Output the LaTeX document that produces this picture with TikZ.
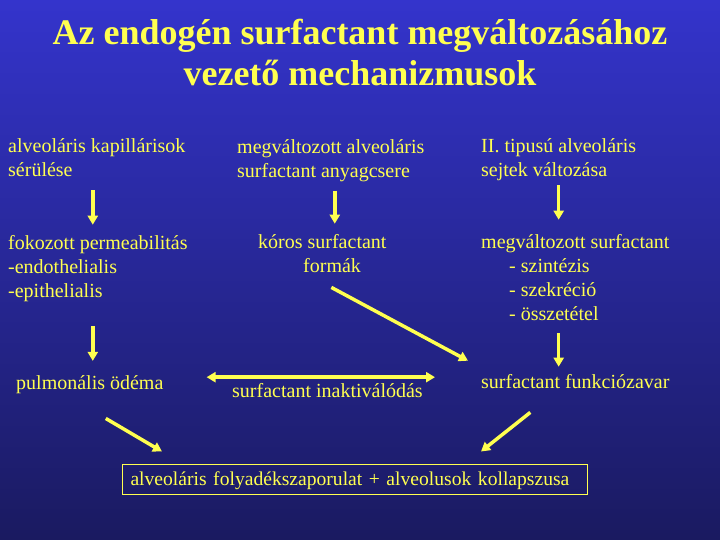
\documentclass[tikz,border=0pt]{standalone}
\usepackage{fontspec}
\setmainfont{Liberation Serif}
\usetikzlibrary{arrows.meta,positioning}
\definecolor{slidetop}{RGB}{52,52,204}
\definecolor{slidebot}{RGB}{26,26,96}
\definecolor{sarga}{RGB}{255,255,80}
\tikzset{
  txt/.style={text=sarga,font=\fontsize{20}{24}\selectfont,inner sep=0pt,align=left,anchor=base west},
  nyil/.style={draw=sarga,line width=3.5pt,-{Triangle[width=10pt,length=9pt]}},
  ketnyil/.style={nyil,{Triangle[width=10pt,length=9pt]}-{Triangle[width=10pt,length=9pt]}},
  doboz/.style={txt,font=\fontsize{19.6}{24}\selectfont,draw=sarga,line width=1pt,inner xsep=8pt,inner ysep=4pt,text width=449pt,text height=17pt,text depth=5pt}
}
\begin{document}
\begin{tikzpicture}[x=1pt,y=-1pt]
\shade[top color=slidetop,bottom color=slidebot] (0,0) rectangle (720,540);
\useasboundingbox (0,0) rectangle (720,540);
% cim (base = utolso sor)
\node[txt,font=\bfseries\fontsize{36}{41}\selectfont,align=center,anchor=base] (cim) at (360,86)
  {Az endogén surfactant megváltozásához\\vezető mechanizmusok};
% bal oszlop
\node[txt] (kap) at (8,177) {alveoláris kapillárisok\\sérülése};
\node[txt] (perm) at (8,297) {fokozott permeabilitás\\-endothelialis\\-epithelialis};
\node[txt] (odema) at (16,389) {pulmonális ödéma};
% kozepso oszlop
\node[txt] (anyag) at (237,178) {megváltozott alveoláris\\surfactant anyagcsere};
\node[txt] (koros) at (258,272) {kóros surfactant\\\hspace*{45pt}formák};
\node[txt] (inakt) at (232,397) {surfactant inaktiválódás};
% jobb oszlop
\node[txt] (tip) at (481,177) {II. tipusú alveoláris\\sejtek változása};
\node[txt] (valt) at (481,320) {megváltozott surfactant\\\hspace*{28pt}- szintézis\\\hspace*{28pt}- szekréció\\\hspace*{28pt}- összetétel};
\node[txt] (zav) at (481,388) {surfactant funkciózavar};
% also doboz
\node[doboz] (kol) at (122,485) {alveoláris folyadékszaporulat + alveolusok kollapszusa};
% nyilak
\draw[nyil,shorten <=13pt,shorten >=10pt] ([xshift=-4]kap.south) -- ([xshift=-4]kap.south |- perm.north);
\draw[nyil,shorten <=25pt,shorten >=14pt] ([xshift=-4]kap.south |- perm.south) -- ([xshift=-4]kap.south |- odema.north);
\draw[nyil,shorten <=8pt,shorten >=10pt] ([xshift=4]anyag.south) -- ([xshift=4]anyag.south |- koros.north);
\draw[nyil] ([shift={(9,15)}]koros.south) -- ([shift={(-13,-13)}]zav.north west);
\draw[ketnyil,shorten <=43pt,shorten >=46pt] ([yshift=7]odema.east) -- ([yshift=7]odema.east -| zav.west);
\draw[nyil,shorten <=4pt,shorten >=14pt] (tip.south) -- (tip.south |- valt.north);
\draw[nyil,shorten <=13pt,shorten >=7pt] (tip.south |- valt.south) -- (tip.south |- zav.north);
\draw[nyil] ([shift={(16,25)}]odema.south) -- ([shift={(40,-12)}]kol.north west);
\draw[nyil] ([shift={(-45,24)}]zav.south) -- ([shift={(-107,-12)}]kol.north east);
\end{tikzpicture}
\end{document}
